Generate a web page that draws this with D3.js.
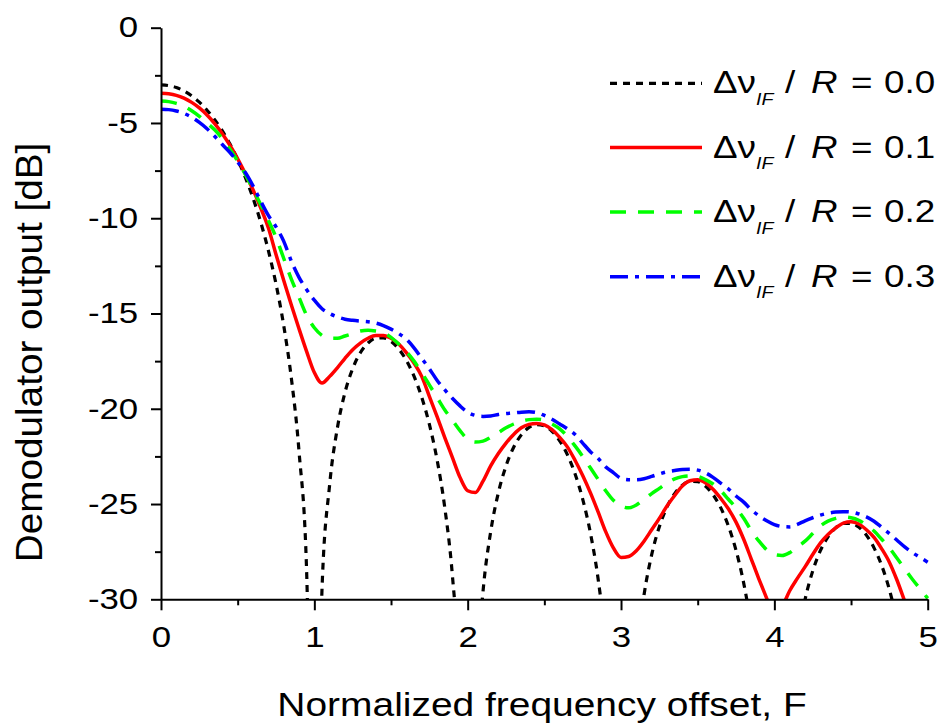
<!DOCTYPE html>
<html><head><meta charset="utf-8">
<script src="https://cdn.jsdelivr.net/npm/d3@7"></script>
<style>
body{margin:0;background:#fff;}
text{font-family:"Liberation Sans",Arial,sans-serif;fill:#000;}
</style>
</head><body>
<svg id="c" width="943" height="728" xmlns="http://www.w3.org/2000/svg"></svg>
<script>
// Normalized frequency offset F (x values)
const freq = [0,0.05,0.1,0.15,0.2,0.25,0.3,0.35,0.4,0.45,0.5,0.55,0.6,0.65,0.7,0.75,0.8,0.85,0.9,0.95,
1,1.05,1.1,1.15,1.2,1.25,1.3,1.35,1.4,1.45,1.5,1.55,1.6,1.65,1.7,1.75,1.8,1.85,1.9,1.95,
2,2.05,2.1,2.15,2.2,2.25,2.3,2.35,2.4,2.45,2.5,2.55,2.6,2.65,2.7,2.75,2.8,2.85,2.9,2.95,
3,3.05,3.1,3.15,3.2,3.25,3.3,3.35,3.4,3.45,3.5,3.55,3.6,3.65,3.7,3.75,3.8,3.85,3.9,3.95,
4,4.05,4.1,4.15,4.2,4.25,4.3,4.35,4.4,4.45,4.5,4.55,4.6,4.65,4.7,4.75,4.8,4.85,4.9,4.95,5];

// Demodulator output [dB] for dv_IF/R = 0.0
const out00 = [-3.00,-3.04,-3.14,-3.32,-3.58,-3.91,-4.33,-4.83,-5.42,-6.11,-6.92,-7.86,-8.94,-10.20,-11.69,-13.45,-15.62,-18.39,-22.23,-28.61,
-50,-29.48,-23.97,-21.02,-19.14,-17.89,-17.06,-16.55,-16.30,-16.28,-16.46,-16.86,-17.46,-18.29,-19.39,-20.81,-22.66,-25.15,-28.72,-34.86,
-50,-35.29,-29.59,-26.45,-24.41,-23.00,-22.02,-21.37,-20.98,-20.83,-20.90,-21.18,-21.68,-22.41,-23.41,-24.74,-26.50,-28.90,-32.39,-38.45,
-50,-38.74,-32.97,-29.77,-27.66,-26.19,-25.15,-24.45,-24.01,-23.81,-23.82,-24.06,-24.51,-25.19,-26.15,-27.43,-29.15,-31.51,-34.97,-40.99,
-50,-41.2,-35.40,-32.16,-30.02,-28.52,-27.45,-26.72,-26.25,-26.02,-26.01,-26.21,-26.63,-27.30,-28.23,-29.49,-31.18,-33.52,-36.95,-42.95,-50];

// dv_IF/R = 0.1
const out01 = [-3.44,-3.47,-3.55,-3.70,-3.92,-4.21,-4.58,-5.03,-5.56,-6.18,-6.88,-7.66,-8.5,-9.45,-10.5,-11.9,-13.25,-14.55,-15.8,-17.0,
-18.1,-18.65,-18.3,-17.85,-17.35,-16.9,-16.55,-16.3,-16.15,-16.15,-16.3,-16.6,-17.05,-17.6,-18.3,-19.35,-20.4,-21.5,-22.55,-23.6,
-24.3,-24.4,-23.8,-23.0,-22.35,-21.8,-21.35,-21.0,-20.82,-20.77,-20.85,-21.1,-21.5,-22.0,-22.7,-23.5,-24.4,-25.4,-26.45,-27.3,
-27.8,-27.75,-27.45,-26.95,-26.35,-25.75,-25.1,-24.55,-24.05,-23.78,-23.72,-23.88,-24.22,-24.7,-25.25,-25.95,-26.85,-27.9,-28.95,-29.95,
-30.9,-30.4,-29.55,-28.9,-28.3,-27.65,-27.05,-26.6,-26.25,-26.0,-25.93,-26.05,-26.35,-26.75,-27.35,-28.05,-29.0,-30.1,-31.2,-32.3,-33.3];

// dv_IF/R = 0.2
const out02 = [-3.85,-3.88,-3.97,-4.12,-4.36,-4.65,-5.0,-5.36,-5.82,-6.38,-7.0,-7.7,-8.48,-9.28,-10.1,-11.0,-12.1,-13.2,-14.15,-15.1,
-15.75,-16.15,-16.3,-16.3,-16.18,-16.05,-15.92,-15.88,-15.92,-16.0,-16.25,-16.6,-17.0,-17.5,-18.1,-18.75,-19.4,-20.05,-20.6,-21.15,
-21.6,-21.75,-21.7,-21.5,-21.25,-21.0,-20.8,-20.65,-20.57,-20.55,-20.6,-20.8,-21.05,-21.45,-21.95,-22.5,-23.1,-23.7,-24.3,-24.8,
-25.1,-25.2,-25.05,-24.75,-24.45,-24.18,-23.9,-23.68,-23.56,-23.52,-23.55,-23.72,-23.95,-24.3,-24.75,-25.2,-25.75,-26.4,-26.95,-27.4,
-27.65,-27.7,-27.55,-27.25,-26.95,-26.55,-26.15,-25.9,-25.75,-25.68,-25.72,-25.85,-26.1,-26.42,-26.85,-27.3,-27.85,-28.4,-28.95,-29.45,-29.95];

// dv_IF/R = 0.3
const out03 = [-4.28,-4.3,-4.37,-4.5,-4.7,-4.97,-5.3,-5.7,-6.13,-6.55,-7.05,-7.6,-8.3,-9.1,-9.85,-10.45,-11.2,-12.25,-13.1,-13.75,
-14.3,-14.75,-15.0,-15.18,-15.3,-15.36,-15.4,-15.43,-15.5,-15.63,-15.82,-16.05,-16.35,-16.8,-17.35,-17.9,-18.5,-19.0,-19.45,-19.85,
-20.18,-20.35,-20.4,-20.38,-20.3,-20.25,-20.22,-20.18,-20.16,-20.2,-20.35,-20.55,-20.8,-21.05,-21.35,-21.8,-22.25,-22.6,-23.05,-23.35,
-23.65,-23.72,-23.72,-23.67,-23.55,-23.42,-23.31,-23.24,-23.19,-23.18,-23.22,-23.36,-23.6,-23.9,-24.2,-24.58,-24.9,-25.3,-25.62,-25.88,
-26.08,-26.18,-26.2,-26.07,-25.88,-25.72,-25.58,-25.48,-25.42,-25.4,-25.42,-25.52,-25.67,-25.9,-26.22,-26.55,-26.9,-27.25,-27.55,-27.8,-28.05];

const ratioLabels = ["0.0","0.1","0.2","0.3"];
const xTicks = [0,1,2,3,4,5];
const xMinorTicks = [0.5,1.5,2.5,3.5,4.5];
const yTicks = [0,-5,-10,-15,-20,-25,-30];
const yMinorTicks = [-2.5,-7.5,-12.5,-17.5,-22.5,-27.5];
const xTitle = "Normalized frequency offset, F";
const yTitle = "Demodulator output [dB]";

const svg = d3.select("#c");
svg.append("rect").attr("width",943).attr("height",728).attr("fill","#fff");

const x = d3.scaleLinear().domain([0,5]).range([161,927.7]);
const y = d3.scaleLinear().domain([-30,0]).range([599.3,27.7]);

svg.append("clipPath").attr("id","clip").append("rect")
  .attr("x",140).attr("y",0).attr("width",803).attr("height",y(-30));

const styles = [
  {color:"#000000", dash:"7,6", width:3.2},
  {color:"#ff0000", dash:null, width:3.5},
  {color:"#00ff00", dash:"16,12", width:3.5},
  {color:"#0000ff", dash:"18,7,4,7", width:3.5}
];
const seriesVals = [out00, out01, out02, out03];

const line = d3.line().x(d=>x(d[0])).y(d=>y(d[1])).curve(d3.curveMonotoneX);
const plotG = svg.append("g").attr("clip-path","url(#clip)");
seriesVals.forEach((vals,i)=>{
  const pts = freq.map((f,j)=>[f, vals[j]]);
  const p = plotG.append("path").datum(pts).attr("d",line)
    .attr("fill","none").attr("stroke",styles[i].color)
    .attr("stroke-width",styles[i].width).attr("stroke-linejoin","round");
  if(styles[i].dash) p.attr("stroke-dasharray",styles[i].dash);
});

// axes
function styleAxis(g){
  g.selectAll("path.domain").attr("stroke","#000").attr("stroke-width",2);
  g.selectAll(".tick line").attr("stroke","#000").attr("stroke-width",2);
}
const yAxis = svg.append("g").attr("transform",`translate(${x(0)},0)`)
  .call(d3.axisLeft(y).tickValues(yTicks).tickSize(10).tickSizeOuter(0).tickFormat(d=>String(d)));
styleAxis(yAxis);
yAxis.selectAll("text").attr("font-size",29).attr("font-family","Liberation Sans, Arial, sans-serif")
  .attr("x",-19).attr("transform","scale(1.2,1)").attr("fill","#000");
const yMinor = svg.append("g").attr("transform",`translate(${x(0)},0)`)
  .call(d3.axisLeft(y).tickValues(yMinorTicks).tickSize(6).tickSizeOuter(0).tickFormat(""));
styleAxis(yMinor); yMinor.select("path.domain").remove();

const xAxis = svg.append("g").attr("transform",`translate(0,${y(-30)})`)
  .call(d3.axisBottom(x).tickValues(xTicks).tickSize(11).tickSizeOuter(0).tickFormat(d=>String(d)));
styleAxis(xAxis);
xAxis.selectAll("text").attr("font-size",29).attr("font-family","Liberation Sans, Arial, sans-serif")
  .attr("y",27).attr("transform","scale(1.2,1)").attr("fill","#000");
xAxis.selectAll(".tick").each(function(d){
  d3.select(this).select("text").attr("x",0);
});
const xMinor = svg.append("g").attr("transform",`translate(0,${y(-30)})`)
  .call(d3.axisBottom(x).tickValues(xMinorTicks).tickSize(6).tickSizeOuter(0).tickFormat(""));
styleAxis(xMinor); xMinor.select("path.domain").remove();

// axis titles
svg.append("text").attr("transform","translate(542,715.5) scale(1.18,1)")
  .attr("text-anchor","middle").attr("font-size",33).text(xTitle);
svg.append("text").attr("transform","translate(41.5,352.5) rotate(-90) scale(1.21,1.15)")
  .attr("text-anchor","middle").attr("font-size",32).text(yTitle);

// legend
const legBase = [93.3,157.5,222,286.7];
ratioLabels.forEach((lab,i)=>{
  const by = legBase[i];
  const ly = by - 10;
  const l = svg.append("line").attr("x1",610).attr("x2",702).attr("y1",ly).attr("y2",ly)
    .attr("stroke",styles[i].color).attr("stroke-width",styles[i].width);
  if(styles[i].dash) l.attr("stroke-dasharray",styles[i].dash);
  const piece = (sx, txt, size, italic, dy) => {
    const t = svg.append("text").attr("transform",`translate(${sx},${by+dy}) scale(1.15,1)`)
      .attr("font-size",size).text(txt);
    if(italic) t.attr("font-style","italic");
  };
  piece(713, "Δν", 32, false, 0);
  piece(756, "IF", 17, true, 11.7);
  piece(785, "/", 32, false, 0);
  piece(811, "R", 32, true, 0);
  piece(851, "=", 32, false, 0);
  piece(884, lab, 32, false, 0);
});
</script>
</body></html>
